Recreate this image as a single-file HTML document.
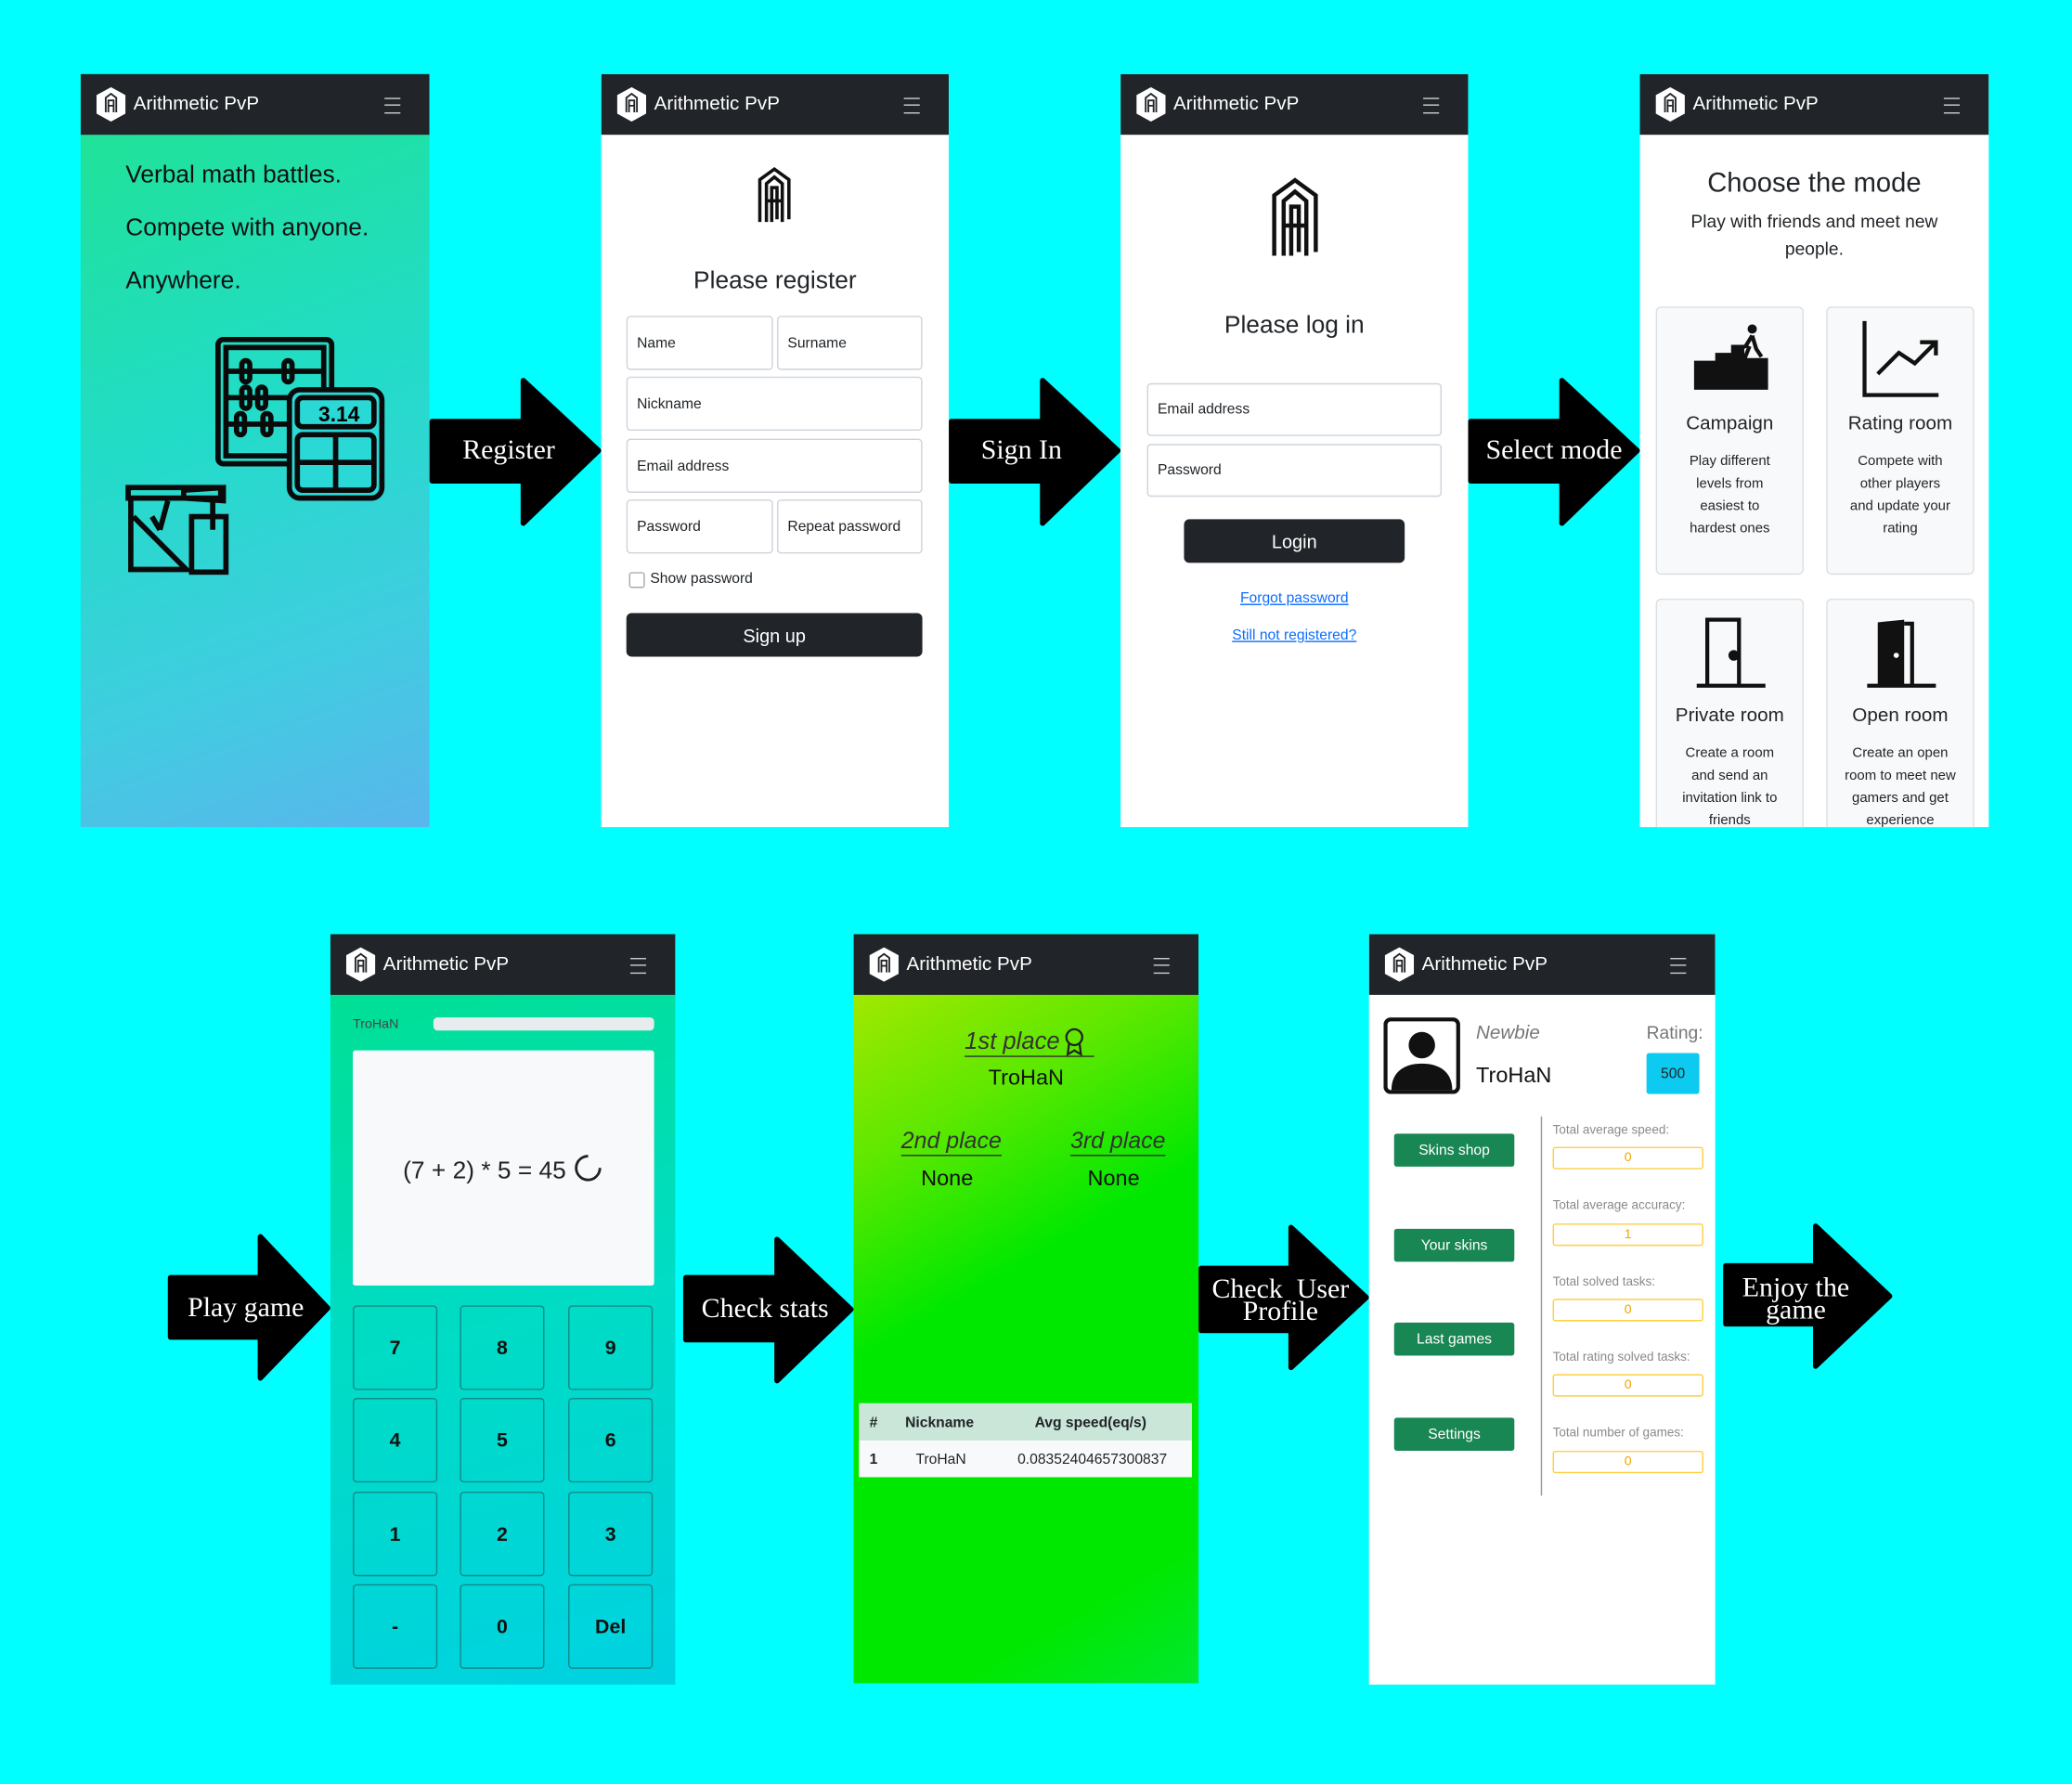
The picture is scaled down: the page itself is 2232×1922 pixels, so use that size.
<!DOCTYPE html>
<html><head><meta charset="utf-8">
<style>
html,body{margin:0;padding:0;background:#00ffff;overflow:hidden}
#wrap{position:absolute;left:0;top:0;width:1568px;height:1350px;transform:scale(1.42347);transform-origin:0 0;font-family:"Liberation Sans",sans-serif;color:#212529}
.a{position:absolute}
.panel{position:absolute;overflow:hidden;background:#fff}
.hdr{position:absolute;left:0;top:0;right:0;height:46px;background:#212529;color:#fff}
.hdr .t{position:absolute;left:40px;top:15px;font-size:14.5px}
.hdr .m{position:absolute;right:22px;top:18px;width:12px;height:10px;border-top:1.5px solid #ccc;border-bottom:1.5px solid #ccc}
.hdr .m:after{content:"";position:absolute;left:0;right:0;top:3.5px;border-top:1.5px solid #ccc}
.hdr svg{position:absolute;left:12px;top:10px}
.inp{position:absolute;border:1px solid #ced4da;border-radius:3px;background:#fff;font-size:11px;box-sizing:border-box;padding-left:7px;display:flex;align-items:center}
.btn{position:absolute;background:#212529;color:#fff;border-radius:4px;display:flex;align-items:center;justify-content:center;font-size:14px}
.c{text-align:center}
.card{position:absolute;background:#f8f9fa;border:1px solid #dcdfe2;border-radius:4px;box-sizing:border-box;text-align:center}
.card .h{position:absolute;left:0;right:0;font-size:14.5px}
.card .d{position:absolute;left:14px;right:14px;font-size:10.5px;line-height:17px}
.key{position:absolute;width:64px;height:64px;border:1px solid #138a8a;border-radius:3px;box-sizing:border-box;display:flex;align-items:center;justify-content:center;font-weight:bold;font-size:15px;color:#111}
.gb{position:absolute;left:19px;width:91px;height:25px;background:#198754;color:#fff;font-size:11px;border-radius:2px;display:flex;align-items:center;justify-content:center}
.sl{position:absolute;left:139px;font-size:9.5px;color:#8a8a8a}
.sv{position:absolute;left:139px;width:114px;height:17px;border:1px solid #ffcf40;border-radius:2px;box-sizing:border-box;font-size:10px;color:#f0a500;text-align:center;line-height:15px}
.lbl{position:absolute;font-family:"Liberation Serif",serif;color:#fff;font-size:21px;text-align:center;line-height:17px}
</style></head><body>
<div id="wrap">

<svg class="a" style="left:0;top:0" width="1568" height="1350">
<g fill="#000" stroke="#000" stroke-width="4" stroke-linejoin="round">
<polygon points="327,319 396,319 396,288 453,341 396,396 396,364 327,364"/>
<polygon points="720,319 789,319 789,288 846,341 789,396 789,364 720,364"/>
<polygon points="1113,319 1182,319 1182,288 1239,341 1182,396 1182,364 1113,364"/>
<polygon points="129,967 197,967 197,936 248,990 197,1043 197,1012 129,1012"/>
<polygon points="519,967 588,967 588,938 644,991 588,1045 588,1014 519,1014"/>
<polygon points="909,960 977,960 977,929 1034,982 977,1035 977,1007 909,1007"/>
<polygon points="1306,958 1374,958 1374,928 1430,981 1374,1034 1374,1002 1306,1002"/>
</g></svg>
<div class="lbl" style="left:330px;top:332px;width:110px">Register</div>
<div class="lbl" style="left:723px;top:332px;width:100px">Sign In</div>
<div class="lbl" style="left:1113px;top:332px;width:126px">Select mode</div>
<div class="lbl" style="left:130px;top:981px;width:112px">Play game</div>
<div class="lbl" style="left:520px;top:982px;width:118px">Check stats</div>
<div class="lbl" style="left:910px;top:967px;width:118px">Check&nbsp; User<br>Profile</div>
<div class="lbl" style="left:1306px;top:966px;width:106px">Enjoy the<br>game</div>

<!-- Panel 1 -->
<div class="panel" style="left:61px;top:56px;width:264px;height:570px;background:linear-gradient(160deg,#1fe38f 0%,#22dcc8 45%,#3fcde0 75%,#5ab6ec 100%)">
<div class="hdr"><svg width="22" height="26" viewBox="0 0 22 26"><polygon points="11,0 22,6 22,20 11,26 0,20 0,6" fill="#fff"/><path d="M7 19V8l4-3 4 3v11M9 19V10h4v9M9 14h4" stroke="#212529" stroke-width="1.3" fill="none"/></svg><div class="t">Arithmetic PvP</div><div class="m"></div></div>
<div class="a" style="left:34px;top:65px;font-size:18.5px;color:#111">Verbal math battles.</div>
<div class="a" style="left:34px;top:105px;font-size:18.5px;color:#111">Compete with anyone.</div>
<div class="a" style="left:34px;top:145px;font-size:18.5px;color:#111">Anywhere.</div>
<svg class="a" style="left:30px;top:195px" width="210" height="195" viewBox="0 0 210 195" fill="none" stroke="#0a0a0a" stroke-width="4">
<rect x="74" y="6" width="86" height="94" rx="4"/><rect x="80" y="12" width="74" height="82"/>
<line x1="80" y1="30" x2="154" y2="30"/><line x1="80" y1="50" x2="130" y2="50"/><line x1="80" y1="70" x2="130" y2="70"/>
<rect x="92" y="22" width="6" height="16" rx="3"/><rect x="124" y="22" width="6" height="16" rx="3"/><rect x="92" y="42" width="6" height="16" rx="3"/><rect x="104" y="42" width="6" height="16" rx="3"/><rect x="88" y="62" width="6" height="16" rx="3"/><rect x="108" y="62" width="6" height="16" rx="3"/>
<rect x="128" y="44" width="70" height="82" rx="8" fill="#2ad9d6"/><rect x="134" y="50" width="58" height="22" rx="4"/>
<text x="150" y="68" font-size="16" font-weight="bold" fill="#000" stroke="none" font-family="Liberation Sans">3.14</text>
<rect x="134" y="78" width="58" height="42" rx="4"/><line x1="163" y1="78" x2="163" y2="120"/><line x1="134" y1="99" x2="192" y2="99"/>
<rect x="6" y="118" width="70" height="8"/><polyline points="8,126 8,180 50,180 10,140"/><line x1="70" y1="126" x2="70" y2="150"/>
<rect x="54" y="140" width="26" height="42"/><line x1="24" y1="140" x2="30" y2="150"/><line x1="30" y1="150" x2="36" y2="128"/><path d="M48 120l30-2v10l-30-2z"/>
</svg>
</div>

<!-- Panel 2 -->
<div class="panel" style="left:455px;top:56px;width:263px;height:570px">
<div class="hdr"><svg width="22" height="26" viewBox="0 0 22 26"><polygon points="11,0 22,6 22,20 11,26 0,20 0,6" fill="#fff"/><path d="M7 19V8l4-3 4 3v11M9 19V10h4v9M9 14h4" stroke="#212529" stroke-width="1.3" fill="none"/></svg><div class="t">Arithmetic PvP</div><div class="m"></div></div>
<svg class="a" style="left:117px;top:70px" width="28" height="44" viewBox="0 0 28 44" fill="none" stroke="#111" stroke-width="2.5"><path d="M3 42V10L14 2l11 8v30M8 42V13l6-5 6 5v29M12 42V16h4v24M8 26h12"/></svg>
<div class="a c" style="left:0;right:0;top:145px;font-size:18.5px">Please register</div>
<div class="inp" style="left:19px;top:183px;width:111px;height:41px">Name</div>
<div class="inp" style="left:133px;top:183px;width:110px;height:41px">Surname</div>
<div class="inp" style="left:19px;top:229px;width:224px;height:41px">Nickname</div>
<div class="inp" style="left:19px;top:276px;width:224px;height:41px">Email address</div>
<div class="inp" style="left:19px;top:322px;width:111px;height:41px">Password</div>
<div class="inp" style="left:133px;top:322px;width:110px;height:41px">Repeat password</div>
<div class="a" style="left:21px;top:377px;width:10px;height:10px;border:1px solid #aaa;border-radius:2px"></div>
<div class="a" style="left:37px;top:376px;font-size:11px">Show password</div>
<div class="btn" style="left:19px;top:408px;width:224px;height:33px">Sign up</div>
</div>

<!-- Panel 3 -->
<div class="panel" style="left:848px;top:56px;width:263px;height:570px">
<div class="hdr"><svg width="22" height="26" viewBox="0 0 22 26"><polygon points="11,0 22,6 22,20 11,26 0,20 0,6" fill="#fff"/><path d="M7 19V8l4-3 4 3v11M9 19V10h4v9M9 14h4" stroke="#212529" stroke-width="1.3" fill="none"/></svg><div class="t">Arithmetic PvP</div><div class="m"></div></div>
<svg class="a" style="left:112px;top:76px" width="40" height="66" viewBox="0 0 28 44" fill="none" stroke="#111" stroke-width="2.2"><path d="M3 42V10L14 2l11 8v30M8 42V13l6-5 6 5v29M12 42V16h4v24M8 26h12"/></svg>
<div class="a c" style="left:0;right:0;top:179px;font-size:18.5px">Please log in</div>
<div class="inp" style="left:20px;top:234px;width:223px;height:40px">Email address</div>
<div class="inp" style="left:20px;top:280px;width:223px;height:40px">Password</div>
<div class="btn" style="left:48px;top:337px;width:167px;height:33px">Login</div>
<div class="a c" style="left:0;right:0;top:391px;font-size:11px;color:#0d6efd;text-decoration:underline">Forgot password</div>
<div class="a c" style="left:0;right:0;top:419px;font-size:11px;color:#0d6efd;text-decoration:underline">Still not registered?</div>
</div>

<!-- Panel 4 -->
<div class="panel" style="left:1241px;top:56px;width:264px;height:570px">
<div class="hdr"><svg width="22" height="26" viewBox="0 0 22 26"><polygon points="11,0 22,6 22,20 11,26 0,20 0,6" fill="#fff"/><path d="M7 19V8l4-3 4 3v11M9 19V10h4v9M9 14h4" stroke="#212529" stroke-width="1.3" fill="none"/></svg><div class="t">Arithmetic PvP</div><div class="m"></div></div>
<div class="a c" style="left:0;right:0;top:71px;font-size:20.5px">Choose the mode</div>
<div class="a c" style="left:22px;right:22px;top:101px;font-size:13.5px;line-height:21px">Play with friends and meet new people.</div>
<div class="card" style="left:12px;top:176px;width:112px;height:203px">
<svg class="a" style="left:27px;top:12px" width="58" height="52" viewBox="0 0 58 52"><path d="M1 50V28h16v-6h12v-6h10v10h18v24z" fill="#111"/><circle cx="45" cy="4" r="3.5" fill="#111"/><path d="M45 9l-5 8-5 2M45 9l3 10 4 6M43 17l-4 10M40 26h-1" stroke="#111" stroke-width="3" fill="none"/></svg>
<div class="h" style="top:80px">Campaign</div>
<div class="d" style="top:108px;left:18px;right:18px">Play different levels from easiest to hardest ones</div></div>
<div class="card" style="left:141px;top:176px;width:112px;height:203px">
<svg class="a" style="left:26px;top:8px" width="60" height="62" viewBox="0 0 60 62" fill="none" stroke="#111" stroke-width="3"><path d="M2 2v56h56"/><path d="M12 42l16-16 12 8 16-16M44 18h12v10"/></svg>
<div class="h" style="top:80px">Rating room</div>
<div class="d" style="top:108px;left:16px;right:16px">Compete with other players and update your rating</div></div>
<div class="card" style="left:12px;top:397px;width:112px;height:190px">
<svg class="a" style="left:26px;top:12px" width="60" height="56" viewBox="0 0 60 56" fill="none" stroke="#111" stroke-width="3"><path d="M12 53V3h24v50M4 53h52"/><circle cx="32" cy="30" r="2.5" fill="#111"/></svg>
<div class="h" style="top:80px">Private room</div>
<div class="d" style="top:108px;left:12px;right:12px">Create a room and send an invitation link to friends</div></div>
<div class="card" style="left:141px;top:397px;width:112px;height:190px">
<svg class="a" style="left:26px;top:10px" width="60" height="58" viewBox="0 0 60 58"><path d="M12 55V7l20-2v50z" fill="#111"/><path d="M32 8h6v47M4 55h52" stroke="#111" stroke-width="3" fill="none"/><circle cx="26" cy="32" r="2" fill="#fff"/></svg>
<div class="h" style="top:80px">Open room</div>
<div class="d" style="top:108px;left:12px;right:12px">Create an open room to meet new gamers and get experience</div></div>
</div>

<!-- Panel 5 -->
<div class="panel" style="left:250px;top:707px;width:261px;height:568px;background:linear-gradient(165deg,#00e08c 0%,#00dcc4 50%,#00d2e2 100%)">
<div class="hdr"><svg width="22" height="26" viewBox="0 0 22 26"><polygon points="11,0 22,6 22,20 11,26 0,20 0,6" fill="#fff"/><path d="M7 19V8l4-3 4 3v11M9 19V10h4v9M9 14h4" stroke="#212529" stroke-width="1.3" fill="none"/></svg><div class="t">Arithmetic PvP</div><div class="m"></div></div>
<div class="a" style="left:17px;top:63px;font-size:10px;color:#444">TroHaN</div>
<div class="a" style="left:78px;top:63px;width:167px;height:10px;background:#e9ecef;border-radius:3px"></div>
<div class="a" style="left:17px;top:88px;width:228px;height:178px;background:#f8f9fa;border-radius:2px"></div>
<div class="a" style="left:55px;top:168px;font-size:18.5px;color:#222">(7 + 2) * 5 = 45</div>
<div class="a" style="left:185px;top:167px;width:16px;height:16px;border:2.5px solid #222;border-right-color:transparent;border-radius:50%;transform:rotate(-45deg)"></div>
<div class="key" style="left:17px;top:281px">7</div><div class="key" style="left:98px;top:281px">8</div><div class="key" style="left:180px;top:281px">9</div>
<div class="key" style="left:17px;top:351px">4</div><div class="key" style="left:98px;top:351px">5</div><div class="key" style="left:180px;top:351px">6</div>
<div class="key" style="left:17px;top:422px">1</div><div class="key" style="left:98px;top:422px">2</div><div class="key" style="left:180px;top:422px">3</div>
<div class="key" style="left:17px;top:492px">-</div><div class="key" style="left:98px;top:492px">0</div><div class="key" style="left:180px;top:492px">Del</div>
</div>

<!-- Panel 6 -->
<div class="panel" style="left:646px;top:707px;width:261px;height:567px;background:linear-gradient(150deg,#b8e800 0%,#5ee800 25%,#00e800 45%,#00e800 85%,#00e830 100%)">
<div class="hdr"><svg width="22" height="26" viewBox="0 0 22 26"><polygon points="11,0 22,6 22,20 11,26 0,20 0,6" fill="#fff"/><path d="M7 19V8l4-3 4 3v11M9 19V10h4v9M9 14h4" stroke="#212529" stroke-width="1.3" fill="none"/></svg><div class="t">Arithmetic PvP</div><div class="m"></div></div>
<div class="a" style="left:84px;top:71px;font-size:18px;font-style:italic;color:#333;border-bottom:1px solid #333;padding-right:26px">1st place</div>
<svg class="a" style="left:159px;top:71px" width="16" height="22" viewBox="0 0 16 22" fill="none" stroke="#222" stroke-width="1.6"><circle cx="8" cy="7" r="6"/><path d="M4 12l-1 8 5-3 5 3-1-8"/></svg>
<div class="a c" style="left:0;right:0;top:100px;font-size:16.5px;color:#111">TroHaN</div>
<div class="a" style="left:36px;top:146px;font-size:17.5px;font-style:italic;color:#333;border-bottom:1px solid #333">2nd place</div>
<div class="a" style="left:164px;top:146px;font-size:17.5px;font-style:italic;color:#333;border-bottom:1px solid #333">3rd place</div>
<div class="a" style="left:51px;top:176px;font-size:16.5px;color:#111">None</div>
<div class="a" style="left:177px;top:176px;font-size:16.5px;color:#111">None</div>
<div class="a" style="left:4px;top:355px;width:252px;height:28px;background:#c9e6d8"></div>
<div class="a" style="left:4px;top:383px;width:252px;height:28px;background:#f8f9fa"></div>
<div class="a" style="left:12px;top:364px;font-size:11px;font-weight:bold">#</div>
<div class="a" style="left:39px;top:364px;font-size:11px;font-weight:bold">Nickname</div>
<div class="a" style="left:137px;top:364px;font-size:11px;font-weight:bold">Avg speed(eq/s)</div>
<div class="a" style="left:12px;top:392px;font-size:11px;font-weight:bold">1</div>
<div class="a" style="left:47px;top:392px;font-size:11px">TroHaN</div>
<div class="a" style="left:124px;top:392px;font-size:11px">0.08352404657300837</div>
</div>

<!-- Panel 7 -->
<div class="panel" style="left:1036px;top:707px;width:262px;height:568px">
<div class="hdr"><svg width="22" height="26" viewBox="0 0 22 26"><polygon points="11,0 22,6 22,20 11,26 0,20 0,6" fill="#fff"/><path d="M7 19V8l4-3 4 3v11M9 19V10h4v9M9 14h4" stroke="#212529" stroke-width="1.3" fill="none"/></svg><div class="t">Arithmetic PvP</div><div class="m"></div></div>
<svg class="a" style="left:11px;top:63px" width="58" height="58" viewBox="0 0 58 58"><rect x="1.5" y="1.5" width="55" height="55" rx="4" fill="#fff" stroke="#111" stroke-width="3"/><circle cx="29" cy="21" r="10" fill="#111"/><path d="M6 55c0-14 10-20 23-20s23 6 23 20z" fill="#111"/></svg>
<div class="a" style="left:81px;top:67px;font-size:14.5px;font-style:italic;color:#777">Newbie</div>
<div class="a" style="left:81px;top:98px;font-size:16.5px;color:#111">TroHaN</div>
<div class="a" style="left:210px;top:67px;font-size:13.5px;color:#777">Rating:</div>
<div class="a" style="left:210px;top:90px;width:40px;height:31px;background:#0dcaf0;font-size:11px;display:flex;align-items:center;justify-content:center;border-radius:2px">500</div>
<div class="a" style="left:130px;top:138px;width:1px;height:287px;background:#999"></div>
<div class="gb" style="top:151px">Skins shop</div>
<div class="gb" style="top:223px">Your skins</div>
<div class="gb" style="top:294px">Last games</div>
<div class="gb" style="top:366px">Settings</div>
<div class="sl" style="top:143px">Total average speed:</div><div class="sv" style="top:161px">0</div>
<div class="sl" style="top:200px">Total average accuracy:</div><div class="sv" style="top:219px">1</div>
<div class="sl" style="top:258px">Total solved tasks:</div><div class="sv" style="top:276px">0</div>
<div class="sl" style="top:315px">Total rating solved tasks:</div><div class="sv" style="top:333px">0</div>
<div class="sl" style="top:372px">Total number of games:</div><div class="sv" style="top:391px">0</div>
</div>

</div>
</body></html>
